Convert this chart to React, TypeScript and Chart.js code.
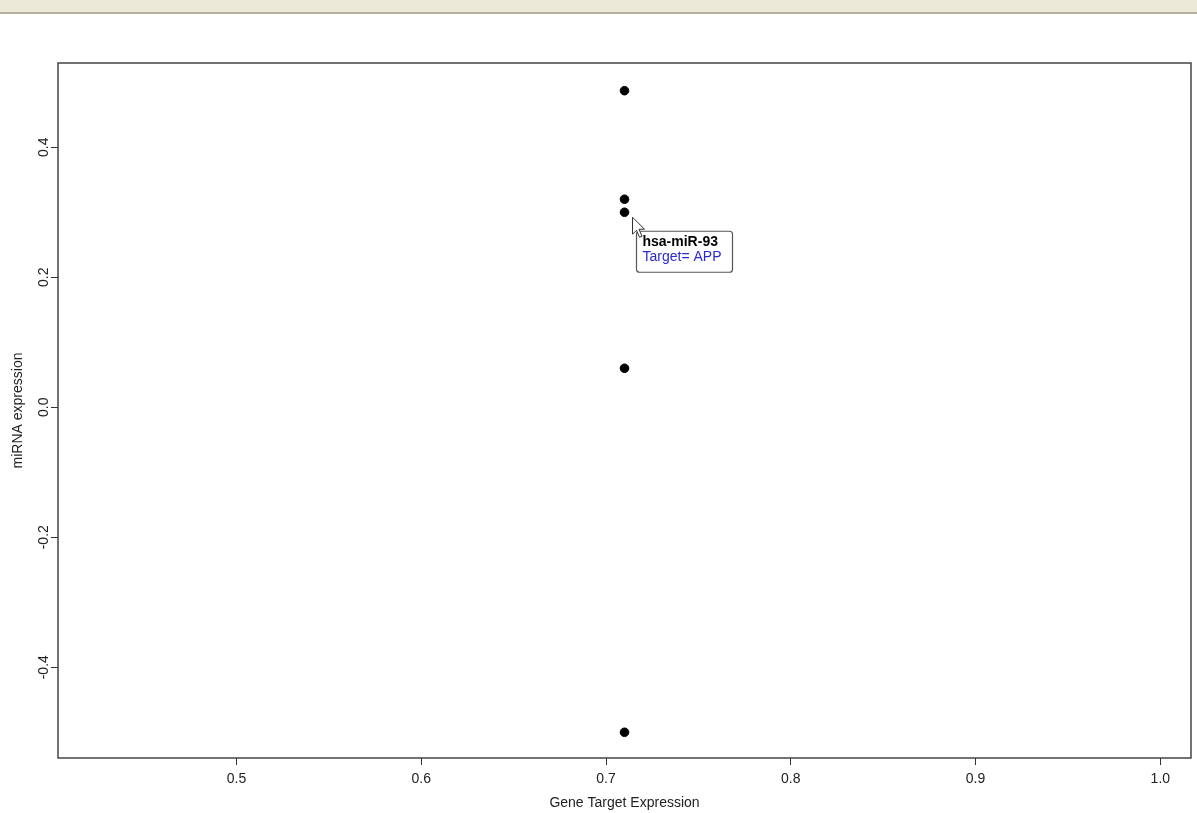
import React, { useEffect, useRef } from "react";
import { Chart, registerables } from "chart.js";

Chart.register(...registerables);

// ---- data ----
const geneTargetExpression = [0.71, 0.71, 0.71, 0.71, 0.71];
const mirnaExpression = [0.487, 0.32, 0.3, 0.06, -0.5];
const xTickValues = [0.5, 0.6, 0.7, 0.8, 0.9, 1.0];
const yTickValues = [-0.4, -0.2, 0.0, 0.2, 0.4];
const xRange = [0.4034, 1.0166];
const yRange = [-0.5396, 0.5296];
const hoverIndex = 2;
const tooltipTitle = "hsa-miR-93";
const tooltipBody = "Target= APP";
const xAxisTitle = "Gene Target Expression";
const yAxisTitle = "miRNA expression";

const FONT = "'Liberation Sans', Arial, sans-serif";

const boxPlugin = {
  id: "boxPlugin",
  afterDatasetsDraw(chart: any) {
    const { ctx, chartArea, scales } = chart;
    ctx.save();
    // plot frame
    ctx.strokeStyle = "#444";
    ctx.lineWidth = 1.5;
    ctx.strokeRect(
      chartArea.left,
      chartArea.top,
      chartArea.right - chartArea.left,
      chartArea.bottom - chartArea.top
    );
    // rotated y tick labels
    const ys = scales.y;
    ctx.fillStyle = "#222";
    ctx.font = `14px ${FONT}`;
    ctx.textAlign = "center";
    ctx.textBaseline = "middle";
    yTickValues.forEach((v) => {
      const py = ys.getPixelForValue(v);
      ctx.save();
      ctx.translate(44, py);
      ctx.rotate(-Math.PI / 2);
      ctx.fillText(v.toFixed(1), 0, 0);
      ctx.restore();
    });

    // hover tooltip
    const px = scales.x.getPixelForValue(geneTargetExpression[hoverIndex]);
    const py = ys.getPixelForValue(mirnaExpression[hoverIndex]);
    const bx = px + 12;
    const by = py + 19;
    const bw = 96;
    const bh = 41;
    ctx.fillStyle = "#fff";
    ctx.strokeStyle = "#555";
    ctx.lineWidth = 1.2;
    ctx.beginPath();
    (ctx as any).roundRect
      ? (ctx as any).roundRect(bx, by, bw, bh, 3)
      : ctx.rect(bx, by, bw, bh);
    ctx.fill();
    ctx.stroke();
    ctx.textAlign = "left";
    ctx.textBaseline = "alphabetic";
    ctx.fillStyle = "#000";
    ctx.font = `bold 14px ${FONT}`;
    ctx.fillText(tooltipTitle, bx + 6, by + 15);
    ctx.fillStyle = "#2a2ad0";
    ctx.font = `14px ${FONT}`;
    ctx.fillText(tooltipBody, bx + 6, by + 30);

    // mouse cursor
    const cx = px + 8;
    const cy = py + 5;
    ctx.beginPath();
    ctx.moveTo(cx, cy);
    ctx.lineTo(cx, cy + 17);
    ctx.lineTo(cx + 4, cy + 13);
    ctx.lineTo(cx + 7, cy + 20);
    ctx.lineTo(cx + 9.5, cy + 19);
    ctx.lineTo(cx + 6.5, cy + 12);
    ctx.lineTo(cx + 12, cy + 12);
    ctx.closePath();
    ctx.fillStyle = "#fff";
    ctx.fill();
    ctx.strokeStyle = "#333";
    ctx.lineWidth = 1;
    ctx.stroke();
    ctx.restore();
  },
};

export default function App() {
  const canvasRef = useRef<HTMLCanvasElement | null>(null);

  useEffect(() => {
    const canvas = canvasRef.current;
    if (!canvas) return;
    const chart = new Chart(canvas, {
      type: "scatter",
      data: {
        datasets: [
          {
            label: "miRNA",
            data: geneTargetExpression.map((x, i) => ({ x, y: mirnaExpression[i] })),
            backgroundColor: "#000",
            borderColor: "#000",
            pointRadius: 4.3,
            pointHoverRadius: 4.3,
          },
        ],
      },
      options: {
        responsive: false,
        animation: false,
        events: [],
        layout: { padding: { top: 63, right: 6, bottom: 0, left: 0 } },
        plugins: {
          legend: { display: false },
          tooltip: { enabled: false },
        },
        scales: {
          x: {
            type: "linear",
            position: "bottom",
            min: xRange[0],
            max: xRange[1],
            afterBuildTicks: (s: any) => {
              s.ticks = xTickValues.map((v) => ({ value: v }));
            },
            afterFit: (s: any) => {
              s.height = 55;
            },
            grid: {
              display: true,
              drawOnChartArea: false,
              drawTicks: true,
              tickLength: 7,
              color: "#333",
              lineWidth: 1,
            },
            border: { display: false },
            ticks: {
              color: "#222",
              font: { family: FONT, size: 14 },
              padding: 6,
              maxRotation: 0,
              autoSkip: false,
              callback: (v: any) => Number(v).toFixed(1),
            },
            title: {
              display: true,
              text: xAxisTitle,
              color: "#222",
              font: { family: FONT, size: 14 },
              padding: { top: 0, bottom: 1 },
            },
          },
          y: {
            type: "linear",
            position: "left",
            min: yRange[0],
            max: yRange[1],
            afterBuildTicks: (s: any) => {
              s.ticks = yTickValues.map((v) => ({ value: v }));
            },
            afterFit: (s: any) => {
              s.width = 58;
            },
            grid: {
              display: true,
              drawOnChartArea: false,
              drawTicks: true,
              tickLength: 7,
              color: "#333",
              lineWidth: 1,
            },
            border: { display: false },
            ticks: { display: false },
            title: {
              display: true,
              text: yAxisTitle,
              color: "#222",
              font: { family: FONT, size: 14 },
              padding: { top: 10, bottom: 0 },
            },
          },
        },
      },
      plugins: [boxPlugin],
    });
    return () => chart.destroy();
  }, []);

  return (
    <div
      style={{
        position: "fixed",
        left: 0,
        top: 0,
        width: 1197,
        height: 813,
        background: "#fff",
        overflow: "hidden",
      }}
    >
      <div
        style={{
          position: "absolute",
          left: 0,
          top: 0,
          width: 1197,
          height: 12,
          background: "#ECE9D8",
          borderBottom: "2px solid #B5B09E",
        }}
      />
      <canvas
        ref={canvasRef}
        width={1197}
        height={813}
        style={{ position: "absolute", left: 0, top: 0, width: 1197, height: 813 }}
      />
    </div>
  );
}
